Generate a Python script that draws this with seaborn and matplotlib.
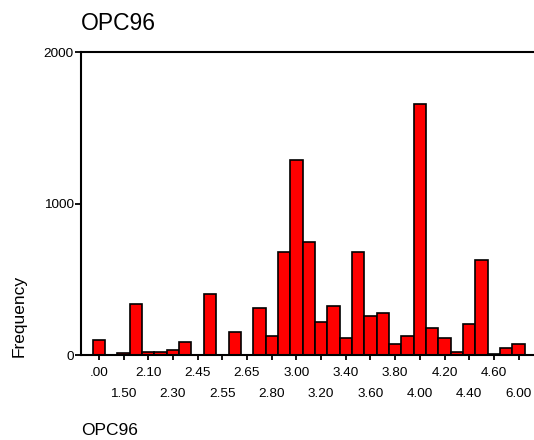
import matplotlib
matplotlib.use("Agg")
import matplotlib.pyplot as plt
import seaborn as sns
import pandas as pd

# categories of OPC96 (only every second one gets a tick label)
categorias = [".00", "1.00", "1.50", "2.00", "2.10", "2.20", "2.30", "2.40",
              "2.45", "2.50", "2.55", "2.60", "2.65", "2.70", "2.80", "2.90",
              "3.00", "3.10", "3.20", "3.30", "3.40", "3.50", "3.60", "3.70",
              "3.80", "3.90", "4.00", "4.10", "4.20", "4.30", "4.40", "4.50",
              "4.60", "5.00", "6.00"]
frequencias = [99, 0, 10, 336, 20, 20, 33, 86,
               0, 404, 0, 154, 0, 312, 127, 681,
               1285, 747, 220, 325, 114, 681, 259, 275,
               75, 127, 1655, 180, 114, 20, 207, 626,
               8, 48, 75]
yticks = [0, 1000, 2000]

df = pd.DataFrame({"OPC96": categorias, "Frequency": frequencias})

sns.set_style("ticks")
plt.rcParams["font.family"] = ["Liberation Sans", "DejaVu Sans"]
plt.rcParams["text.color"] = "black"
plt.rcParams["axes.labelcolor"] = "black"

fig = plt.figure(figsize=(5.34, 4.40), dpi=100)
ax = fig.add_axes([81 / 534, 1 - 355 / 440, 1 - 81 / 534, (355 - 52) / 440])

sns.barplot(data=df, x="OPC96", y="Frequency", order=categorias,
            color="#ff0000", saturation=1, edgecolor="black",
            linewidth=1.2, width=1.0, ax=ax)

ax.set_xlim(-1.45, 35.25)
ax.set_ylim(0, 2000)
ax.set_yticks(yticks)
ax.set_yticklabels([str(v) for v in yticks])

posicoes = list(range(0, len(categorias), 2))
ax.set_xticks(posicoes)
ax.set_xticklabels([categorias[i] for i in posicoes])

for lado in ["top", "left", "bottom"]:
    ax.spines[lado].set_linewidth(1.5)
    ax.spines[lado].set_color("black")
ax.spines["right"].set_visible(False)

ax.tick_params(axis="y", direction="out", length=4.5, width=1.3, pad=0.8,
               labelsize=9.7, colors="black")
ax.tick_params(axis="x", direction="out", length=3.6, width=1.3, pad=5,
               labelsize=9.7, colors="black")
# alternate the x labels over two rows
for i, tick in enumerate(ax.xaxis.get_major_ticks()):
    if i % 2 == 1:
        tick.set_pad(20)

ax.set_title("OPC96", loc="left", fontsize=16.5, pad=16, color="black")
ax.set_ylabel("Frequency", fontsize=12.5, loc="bottom")
ax.yaxis.set_label_coords(-0.12, -0.005)
ax.set_xlabel("OPC96", fontsize=12.5, loc="left")
ax.xaxis.set_label_coords(0.0, -0.225)

plt.savefig("out.png", dpi=100)
plt.close()
